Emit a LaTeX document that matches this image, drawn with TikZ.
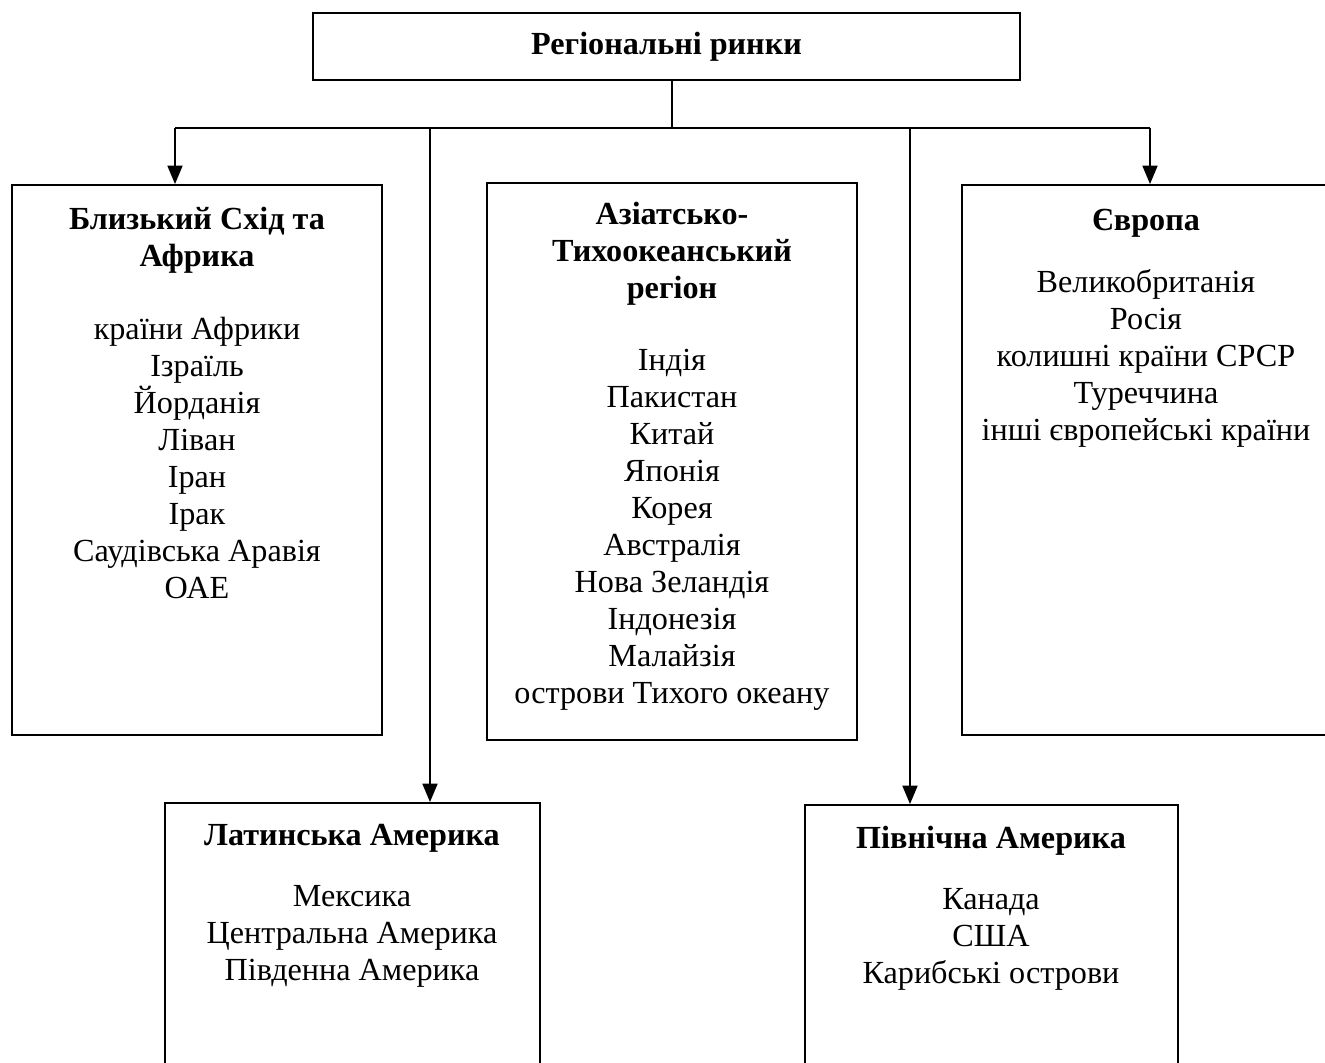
\documentclass[tikz,border=0pt]{standalone}
\usepackage{fontspec}
\setmainfont{Liberation Serif}
\usetikzlibrary{arrows.meta,fit}
\begin{document}
\begin{tikzpicture}[x=0.435pt,y=-0.435pt,
  box/.style={draw,line width=0.8pt,inner sep=0pt},
  txt/.style={align=center,inner sep=0pt,anchor=north,font=\fontsize{14}{16.1}\selectfont},
  line/.style={line width=0.8pt},
  arr/.style={line width=0.8pt,-{Triangle[length=8pt,width=6.5pt]}}]
\useasboundingbox (0,0) rectangle (1325,1063);
\begin{scope}
\clip (0,0) rectangle (1325,1063);
% boxes
\node[box,fit={(313,13)(1020,80)}] (top) {};
\node[box,fit={(12,185)(382,735)}] (me) {};
\node[box,fit={(487,183)(857,740)}] (ap) {};
\node[box,fit={(962,185)(1335,735)}] (eu) {};
\node[box,fit={(165,803)(540,1080)}] (la) {};
\node[box,fit={(805,805)(1178,1080)}] (na) {};
\end{scope}
% texts
\node[font=\fontsize{14}{16.1}\selectfont\bfseries] (toptxt) at (top.center) {Регіональні ринки};
\node[txt] (metxt) at (197,207) {\textbf{Близький Схід та}\\\textbf{Африка}\\[15.7pt]
країни Африки\\Ізраїль\\Йорданія\\Ліван\\Іран\\Ірак\\Саудівська Аравія\\ОАЕ};
\node[txt] (aptxt) at (672,202) {\textbf{Азіатсько-}\\\textbf{Тихоокеанський}\\\textbf{регіон}\\[15.2pt]
Індія\\Пакистан\\Китай\\Японія\\Корея\\Австралія\\Нова Зеландія\\Індонезія\\Малайзія\\острови Тихого океану};
\node[txt] (eutxt) at (1146,209) {\textbf{Європа}\\[10.9pt]
Великобританія\\Росія\\колишні країни СРСР\\Туреччина\\інші європейські країни};
\node[txt] (latxt) at (352,824) {\textbf{Латинська Америка}\\[10.2pt]
Мексика\\Центральна Америка\\Південна Америка};
\node[txt] (natxt) at (991,826) {\textbf{Північна Америка}\\[10.2pt]
Канада\\США\\Карибські острови};
% connectors
\coordinate (bL) at (175,128);
\coordinate (bLa) at (430,128);
\coordinate (bNa) at (910,128);
\coordinate (bR) at (1150,128);
\coordinate (stem) at (672,128);
\draw[line] (top.south -| stem) -- (stem);
\draw[line] (bL) -- (bR);
\draw[arr] (bL) -- (me.north -| bL);
\draw[arr] (bLa) -- (la.north -| bLa);
\draw[arr] (bNa) -- (na.north -| bNa);
\draw[arr] (bR) -- (eu.north -| bR);
\end{tikzpicture}
\end{document}
